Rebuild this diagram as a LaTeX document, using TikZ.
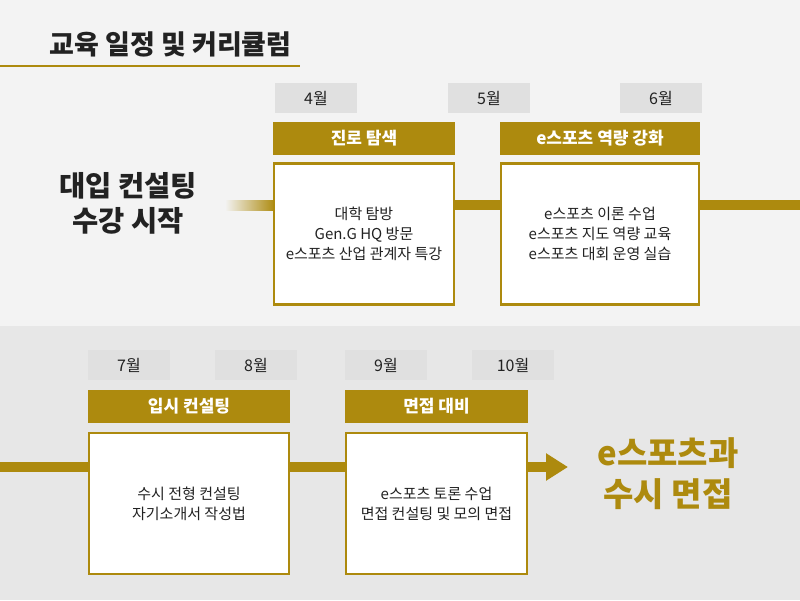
\documentclass[tikz,border=0pt]{standalone}
\usepackage{fontspec}
\setmainfont{Noto Sans CJK KR}
\usepackage{xcolor}
\usetikzlibrary{positioning,arrows.meta}
\definecolor{gold}{HTML}{AD8A0E}
\definecolor{topbg}{HTML}{F3F3F3}
\definecolor{lowbg}{HTML}{E7E7E7}
\definecolor{monthbg}{HTML}{E0E0E0}
\definecolor{ink}{HTML}{222222}
\tikzset{
  monthbox/.style={fill=monthbg, minimum width=82pt, minimum height=30pt, inner sep=0pt, font=\fontsize{16}{18}\selectfont, text=ink},
  headbox/.style={fill=gold, minimum height=33pt, inner sep=0pt, text=white, font=\bfseries\fontsize{17}{19}\selectfont},
  bodybox/.style={fill=white, draw=gold, line width=2.5pt, inner sep=0pt, align=center, font=\fontsize{15}{20}\selectfont, text=ink},
  goldline/.style={draw=gold, line width=10pt}
}
\begin{document}
\begin{tikzpicture}[x=1pt,y=-1pt]
  \useasboundingbox (0,0) rectangle (800,600);
  \fill[topbg] (0,0) rectangle (800,326);
  \fill[lowbg] (0,326) rectangle (800,600);
  % title
  \node[anchor=west, font=\bfseries\fontsize{27}{30}\selectfont, text=ink] (title) at (46,44) {교육 일정 및 커리큘럼};
  \draw[gold, line width=2.5pt] (0,66) -- (300,66);
  % upper row
  \shade[left color=topbg, right color=gold] (225,200) rectangle (275,210);
  \draw[goldline] (275,205) -- (800,205);
  \node[align=center, font=\bfseries\fontsize{28.5}{35}\selectfont, text=ink] (start) at (128,203) {대입 컨설팅\\수강 시작};
  \node[monthbox] (m4) at (316,98) {4월};
  \node[monthbox] (m5) at (489,98) {5월};
  \node[monthbox] (m6) at (661,98) {6월};
  \node[headbox, minimum width=182pt] (h1) at (364,138.5) {진로 탐색};
  \node[headbox, minimum width=200pt] (h2) at (600,138.5) {e스포츠 역량 강화};
  \node[bodybox, minimum width=180pt, minimum height=141pt] (b1) at (364,234) {대학 탐방\\Gen.G HQ 방문\\e스포츠 산업 관계자 특강};
  \node[bodybox, minimum width=198pt, minimum height=141pt] (b2) at (600,234) {e스포츠 이론 수업\\e스포츠 지도 역량 교육\\e스포츠 대회 운영 실습};
  % lower row
  \coordinate (lstart) at (0,467);
  \coordinate (lend) at (568,467);
  \draw[goldline, -{Triangle[length=22pt,width=26pt]}] (lstart) -- (lend);
  \node[monthbox] (m7) at (129,365) {7월};
  \node[monthbox] (m8) at (256,365) {8월};
  \node[monthbox] (m9) at (386,365) {9월};
  \node[monthbox] (m10) at (513,365) {10월};
  \node[headbox, minimum width=202pt] (h3) at (189,406.5) {입시 컨설팅};
  \node[headbox, minimum width=183pt] (h4) at (436.5,406.5) {면접 대비};
  \node[bodybox, minimum width=200pt, minimum height=141pt] (b3) at (189,503.5) {수시 전형 컨설팅\\자기소개서 작성법};
  \node[bodybox, minimum width=181pt, minimum height=141pt] (b4) at (436.5,503.5) {e스포츠 토론 수업\\면접 컨설팅 및 모의 면접};
  \node[align=center, font=\bfseries\fontsize{33}{41}\selectfont, text=gold] (goal) at (668,474) {e스포츠과\\수시 면접};
\end{tikzpicture}
\end{document}
